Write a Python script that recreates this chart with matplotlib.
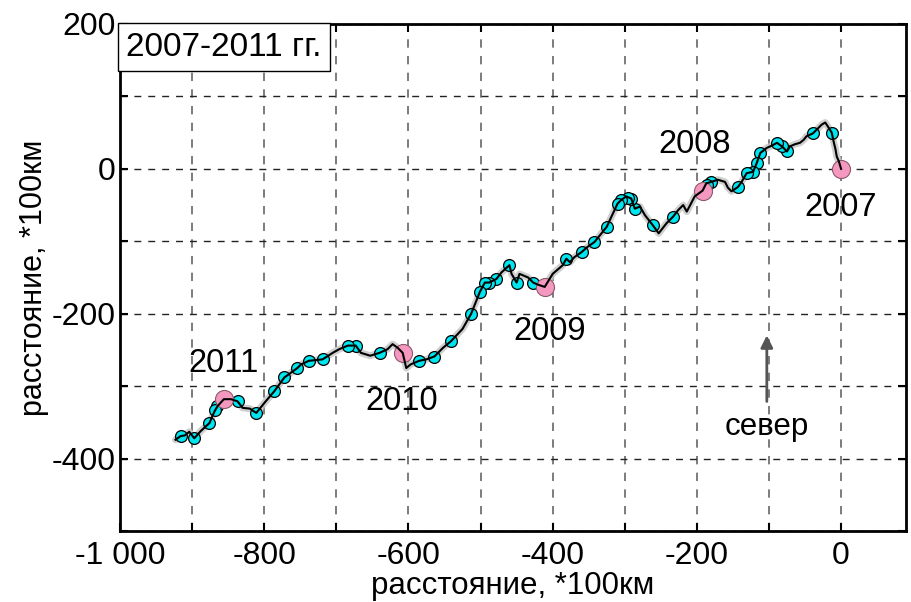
import matplotlib
matplotlib.use("Agg")
import matplotlib.pyplot as plt
from matplotlib.ticker import MultipleLocator

plt.rcParams['font.family'] = ['Liberation Sans', 'DejaVu Sans']

# Track (x, y) in *100 km, from 2007 (origin) westwards
track_x = [0, -3, -6, -8, -10, -13, -18, -22, -27, -33, -39, -48, -52, -57, -64, -71, -75, -82, -89, -96,
           -103, -112, -117, -122, -131, -138, -143, -152, -157, -161, -171, -180, -187, -192,
           -203, -214, -219, -226, -233, -242, -253, -261, -272, -279, -286, -291, -298, -305, -310,
           -318, -325, -342, -352, -360, -370, -376, -381, -386, -400, -411,
           -420, -427, -434, -446, -450, -457, -460, -471, -478, -488, -494, -501, -507, -513, -525,
           -541, -552, -564, -575, -585, -597, -603, -608,
           -615, -622, -629, -640, -653, -666, -673, -684, -696, -705, -719, -738, -749, -754, -772,
           -786, -798, -811, -820, -830, -837, -846, -856,
           -865, -869, -876, -888, -897, -904, -910, -916, -923]
track_y = [0, 10, 17, 28, 36, 50, 58, 64, 61, 55, 49, 45, 40, 36, 34, 31, 24, 31, 36, 32,
           29, 22, 8, -4, -6, -18, -25, -31, -26, -18, -15, -18, -20, -30,
           -38, -59, -50, -57, -66, -75, -89, -78, -64, -52, -55, -41, -38, -43, -48,
           -65, -80, -101, -108, -115, -122, -129, -124, -133, -145, -163,
           -160, -157, -150, -145, -157, -145, -133, -143, -152, -157, -157, -170, -185, -200, -221,
           -238, -247, -259, -263, -265, -270, -275, -254,
           -247, -242, -249, -254, -258, -254, -244, -244, -249, -254, -263, -265, -270, -275, -288,
           -307, -321, -337, -331, -330, -321, -318, -318,
           -328, -335, -351, -362, -372, -363, -368, -369, -374]

# intermediate (cyan) markers
mark_x = [-13, -39, -75, -82, -89, -112, -117, -122, -131, -143, -180, -186,
          -233, -261, -286, -291, -296, -305, -310, -325, -342, -360, -381,
          -427, -450, -460, -478, -488, -494, -501, -513, -541, -564,
          -585, -640, -673, -684, -719, -738, -754,
          -772, -786, -811, -837, -865, -868, -876, -897, -916]
mark_y = [50, 49, 24, 31, 36, 22, 8, -4, -6, -25, -18, -22,
          -66, -78, -55, -41, -40, -43, -48, -80, -101, -115, -124,
          -157, -157, -133, -152, -157, -157, -170, -200, -238, -260,
          -265, -254, -244, -244, -263, -265, -275,
          -288, -307, -337, -321, -328, -333, -351, -372, -369]

# year positions
year_labels = ['2007', '2008', '2009', '2010', '2011']
year_x = [0, -192, -411, -608, -856]
year_y = [0, -30, -163, -254, -318]
year_text_x = [0, -203, -404, -610, -856]
year_text_y = [-53, 33, -224, -321, -269]

xtick_vals = [-1000, -800, -600, -400, -200, 0]
xtick_labels = ['-1 000', '-800', '-600', '-400', '-200', '0']
ytick_vals = [200, 0, -200, -400]
ytick_labels = ['200', '0', '-200', '-400']

fig = plt.figure(figsize=(9.12, 6.02), dpi=100)
ax = fig.add_axes([120/912, 1-531/602, (906-120)/912, (531-24)/602])

ax.set_xlim(-1000, 90)
ax.set_ylim(-500, 200)

ax.plot(track_x, track_y, color='#c4c4c4', lw=5, alpha=0.8, zorder=1, solid_capstyle='round')
ax.plot(mark_x, mark_y, 'o', ms=8.5, mfc='#00e5ee', mec='black', mew=0.9, zorder=2, ls='none')
ax.plot(year_x, year_y, 'o', ms=13, mfc='#f598c0', mec='#8a5a6a', mew=0.8, zorder=3, ls='none')
ax.plot(track_x, track_y, color='black', lw=1.5, zorder=4)

for lab, tx, ty in zip(year_labels, year_text_x, year_text_y):
    ax.text(tx, ty, lab, fontsize=23.5, ha='center', va='center', zorder=5)

ax.annotate('', xy=(-103, -226), xytext=(-103, -325),
            arrowprops=dict(arrowstyle='-|>', color='#555555', lw=2, mutation_scale=18))
ax.text(-103, -356, 'север', fontsize=22.5, ha='center', va='center')

ax.text(0.008, 0.985, '2007-2011 гг.', transform=ax.transAxes, fontsize=24,
        ha='left', va='top', zorder=6,
        bbox=dict(boxstyle='square,pad=0.25', fc='white', ec='black', lw=1))

ax.set_xticks(xtick_vals)
ax.set_xticklabels(xtick_labels)
ax.set_yticks(ytick_vals)
ax.set_yticklabels(ytick_labels)
ax.xaxis.set_minor_locator(MultipleLocator(100))
ax.yaxis.set_minor_locator(MultipleLocator(100))
ax.tick_params(which='both', direction='in', top=True, right=True, labelsize=23, width=1.5)
ax.tick_params(which='major', length=6)
ax.tick_params(which='minor', length=6)
ax.tick_params(axis='x', which='major', pad=7)
ax.tick_params(axis='y', which='major', pad=3)

ax.grid(True, which='both', axis='x', color='#666666', ls=(0, (5, 5)), lw=1.2)
ax.grid(True, which='both', axis='y', color='#222222', ls=(0, (5, 5)), lw=1.0)
ax.set_axisbelow(True)
for s in ax.spines.values():
    s.set_linewidth(2)

ax.set_xlabel('расстояние, *100км', fontsize=22.5, labelpad=0)
ax.set_ylabel('расстояние, *100км', fontsize=22, labelpad=2)

fig.savefig('out.png', dpi=100)
